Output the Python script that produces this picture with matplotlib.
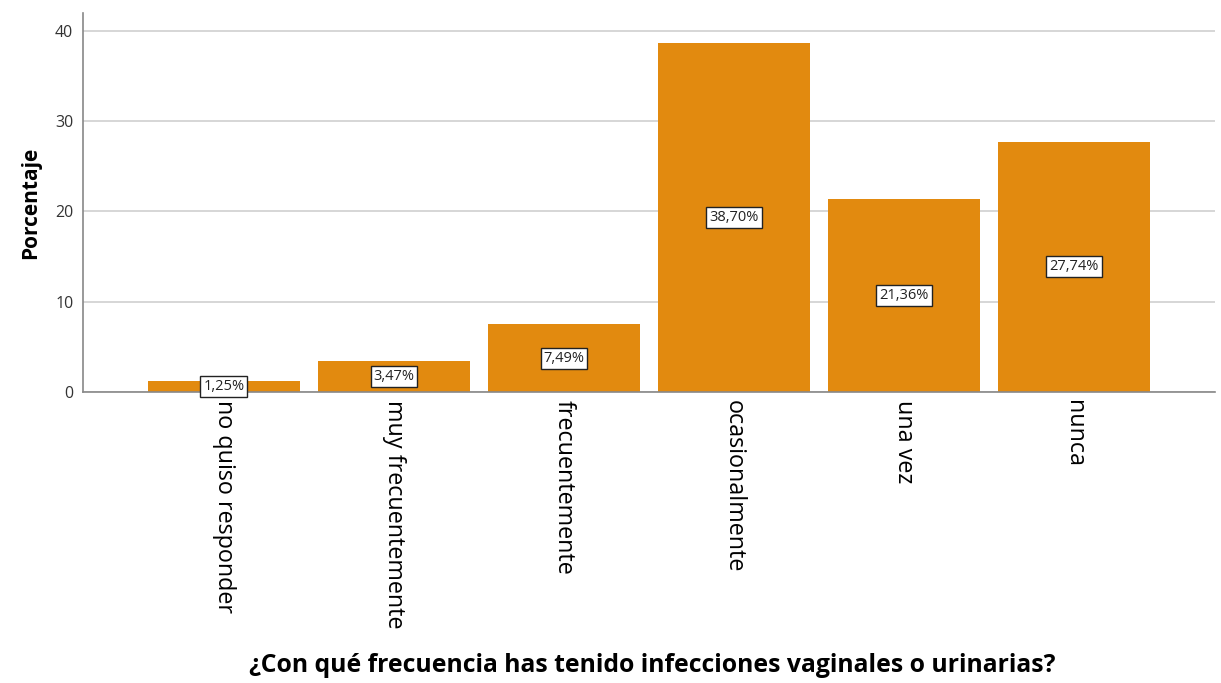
import matplotlib
matplotlib.use("Agg")
import matplotlib.pyplot as plt

# Data
categories = ["no quiso responder", "muy frecuentemente", "frecuentemente",
              "ocasionalmente", "una vez", "nunca"]
percentages = [1.25, 3.47, 7.49, 38.70, 21.36, 27.74]
yticks = [0, 10, 20, 30, 40]

bar_color = "#E28A0F"

plt.rcParams['font.family'] = ['Open Sans', 'DejaVu Sans']

fig = plt.figure(figsize=(12.21, 6.83), dpi=100)
ax = fig.add_axes([0.068, 0.4261, 0.927, 0.555])

x = list(range(len(categories)))
bars = ax.bar(x, percentages, width=0.894, color=bar_color, zorder=2)

# value labels in boxes, centered in each bar
for xi, v in zip(x, percentages):
    label = f"{v:.2f}%".replace(".", ",")
    ax.text(xi, v / 2, label, ha="center", va="center", fontsize=10.5,
            color="#222222", zorder=3,
            bbox=dict(boxstyle="square,pad=0.2", facecolor="white",
                      edgecolor="#222222", linewidth=1))

ax.set_xlim(-0.829, 5.829)
ax.set_ylim(0, 42)
ax.set_yticks(yticks)
ax.set_xticks(x)
ax.set_xticklabels(categories, rotation=-90, fontsize=16.8, va="top", ha="center")
ax.tick_params(axis="both", length=0)
ax.tick_params(axis="y", labelsize=11.5, labelcolor="#333333", pad=7)
ax.tick_params(axis="x", pad=6)

ax.grid(axis="y", color="#d0d0d0", linewidth=1.2, zorder=0)
ax.set_axisbelow(True)

for side in ["top", "right"]:
    ax.spines[side].set_visible(False)
for side in ["left", "bottom"]:
    ax.spines[side].set_color("#888888")
    ax.spines[side].set_linewidth(1.2)

ax.set_ylabel("Porcentaje", fontsize=15, fontweight="bold", labelpad=10)
fig.text(0.534, 0.026, "¿Con qué frecuencia has tenido infecciones vaginales o urinarias?",
         ha="center", va="center", fontsize=17.8, fontweight="bold")

fig.savefig("out.png", dpi=100)
